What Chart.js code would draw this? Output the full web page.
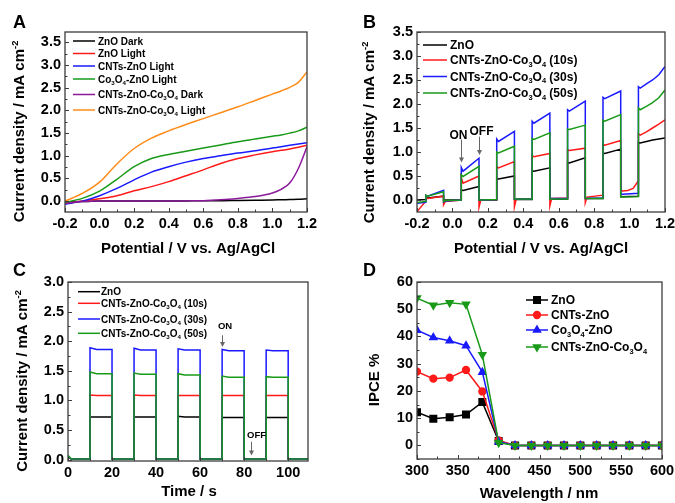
<!DOCTYPE html>
<html>
<head>
<meta charset="utf-8">
<script src="https://cdn.jsdelivr.net/npm/chart.js@4.4.1/dist/chart.umd.min.js"></script>
<style>
  body { margin: 0; background: #fff; width: 675px; height: 503px; position: relative; overflow: hidden; }
  canvas { position: absolute; }
</style>
</head>
<body>
<canvas id="cA" width="337" height="258" style="left:0;top:0"></canvas>
<canvas id="cB" width="350" height="258" style="left:337px;top:0"></canvas>
<canvas id="cC" width="337" height="253" style="left:0;top:250px"></canvas>
<canvas id="cD" width="350" height="253" style="left:337px;top:250px"></canvas>
<script>
// ---- panel A: LSV curves ----
const aPot = [-0.2, -0.1, 0, 0.1, 0.2, 0.3, 0.4, 0.5, 0.6, 0.7, 0.8, 0.9, 1.0, 1.05, 1.1, 1.15, 1.2];
const aZnODark = [-0.02, -0.01, 0, 0, 0, 0, 0, 0.005, 0.01, 0.01, 0.015, 0.02, 0.025, 0.03, 0.035, 0.04, 0.05];
const aZnOLight = [-0.05, 0, 0.05, 0.12, 0.23, 0.32, 0.43, 0.56, 0.69, 0.83, 0.94, 1.02, 1.09, 1.12, 1.15, 1.19, 1.23];
const aCntZnO = [-0.07, 0, 0.12, 0.28, 0.47, 0.64, 0.76, 0.86, 0.94, 1.0, 1.06, 1.11, 1.17, 1.2, 1.23, 1.26, 1.29];
const aCoZnO = [-0.03, 0.06, 0.22, 0.48, 0.76, 0.94, 1.03, 1.1, 1.17, 1.24, 1.31, 1.37, 1.43, 1.46, 1.5, 1.55, 1.63];
const aAllDark = [-0.05, -0.01, 0, 0, 0, 0, 0, 0.005, 0.01, 0.03, 0.06, 0.1, 0.18, 0.26, 0.4, 0.72, 1.2];
const aAllLight = [0, 0.17, 0.42, 0.82, 1.16, 1.39, 1.55, 1.69, 1.82, 1.95, 2.08, 2.22, 2.36, 2.43, 2.51, 2.62, 2.85];

// ---- panel B: chopped LSV, dark/light switching potentials ----
const bEdges = [-0.2, -0.15, -0.05, 0.05, 0.15, 0.25, 0.35, 0.45, 0.55, 0.65, 0.75, 0.85, 0.95, 1.05, 1.2];
// one entry per segment: value at the switch, then values across the segment
const bZnO = [[0, 0.01], [0.04, 0.04, 0.08], [0, 0], [0.21, 0.2, 0.28], [0, 0], [0.45, 0.44, 0.5], [0.01, 0.01],
  [0.61, 0.6, 0.67], [0.02, 0.02], [0.78, 0.77, 0.88], [0.03, 0.03], [0.98, 0.97, 1.06], [0.07, 0.08],
  [1.2, 1.19, 1.22, 1.25, 1.27, 1.29]];
const b10s = [[-0.25, -0.2, -0.02], [0.05, 0.03, 0.08], [-0.1, -0.03, 0], [0.47, 0.35, 0.5], [-0.15, 0, 0.01],
  [0.7, 0.67, 0.8], [-0.14, 0.02, 0.03], [0.93, 0.9, 0.97], [-0.12, 0.03, 0.04], [1.05, 1.03, 1.08],
  [-0.06, 0.06, 0.1], [1.16, 1.14, 1.24], [0.21, 0.19, 0.2, 0.24, 0.4], [1.38, 1.35, 1.42, 1.5, 1.58, 1.67]];
const b30s = [[-0.07, -0.05], [0.1, 0.08, 0.2], [-0.04, -0.02, 0], [0.68, 0.6, 0.87], [0, 0, 0.01],
  [1.27, 1.22, 1.43], [0.02, 0.02], [1.64, 1.6, 1.81], [0.03, 0.03], [1.88, 1.85, 2.06], [0.03, 0.04],
  [2.14, 2.11, 2.27], [0.12, 0.12, 0.14], [2.36, 2.33, 2.42, 2.5, 2.61, 2.78]];
const b50s = [[-0.05, -0.03], [0.1, 0.08, 0.17], [-0.03, -0.01, 0], [0.53, 0.49, 0.7], [0, 0, 0.01],
  [1.0, 0.98, 1.12], [0.02, 0.02], [1.28, 1.26, 1.4], [0.02, 0.02], [1.48, 1.47, 1.56], [0.03, 0.03],
  [1.66, 1.64, 1.78], [0.06, 0.06, 0.07], [1.92, 1.88, 1.95, 2.03, 2.13, 2.29]];

// ---- panel C: i-t curves ----
const cOn = [10, 30, 50, 70, 90];
const cOff = [20, 40, 60, 80, 100];
const cEnd = 109;
const cInit = [0.04, 0.05, 0.05, 0.07];
const cDark = [0.01, 0.01, 0.01, 0.01];
// [value at switch-on, plateau] per pulse
const cZnO = [[0.72, 0.72], [0.72, 0.72], [0.73, 0.72], [0.71, 0.71], [0.71, 0.71]];
const c10s = [[1.09, 1.08], [1.09, 1.08], [1.08, 1.08], [1.08, 1.08], [1.08, 1.08]];
const c30s = [[1.89, 1.86], [1.88, 1.85], [1.87, 1.85], [1.86, 1.84], [1.85, 1.84]];
const c50s = [[1.48, 1.45], [1.46, 1.44], [1.45, 1.43], [1.41, 1.39], [1.4, 1.39]];

// ---- panel D: IPCE ----
const dWave = [300, 320, 340, 360, 380, 400, 420, 440, 460, 480, 500, 520, 540, 560, 580, 600];
const dZnO = [12.2, 9.8, 10.3, 11.3, 15.9, 1.6, 0, 0, 0, 0, 0, 0, 0, 0, 0, 0];
const dCntZnO = [27.1, 24.5, 24.9, 27.7, 19.8, 1.8, 0, 0, 0, 0, 0, 0, 0, 0, 0, 0];
const dCoZnO = [42.3, 39.6, 38.4, 36.6, 26.9, 1.3, 0, 0, 0, 0, 0, 0, 0, 0, 0, 0];
const dAll = [54.1, 51.5, 52.4, 51.8, 33.3, 1.0, 0, 0, 0, 0, 0, 0, 0, 0, 0, 0];

// tick values
const potTicks = [-0.2, 0, 0.2, 0.4, 0.6, 0.8, 1.0, 1.2];
const potMinor = [-0.1, 0.1, 0.3, 0.5, 0.7, 0.9, 1.1];
const jTicks = [0, 0.5, 1.0, 1.5, 2.0, 2.5, 3.0, 3.5];
const jMinor = [0.25, 0.75, 1.25, 1.75, 2.25, 2.75, 3.25];
const jTicksC = [0, 0.5, 1.0, 1.5, 2.0, 2.5, 3.0];
const jMinorC = [0.25, 0.75, 1.25, 1.75, 2.25, 2.75];
const timeTicks = [0, 20, 40, 60, 80, 100];
const timeMinor = [10, 30, 50, 70, 90];
const waveTicks = [300, 350, 400, 450, 500, 550, 600];
const waveMinor = [325, 375, 425, 475, 525, 575];
const ipceTicks = [0, 10, 20, 30, 40, 50, 60];
const ipceMinor = [-5, 5, 15, 25, 35, 45, 55];

const FONT = '"Liberation Sans", Arial, sans-serif';
const FRAME = '#3c3c3c';
Chart.defaults.font.family = FONT;
Chart.defaults.color = '#000';

const SUBS = '₀₁₂₃₄₅₆₇₈₉';
const SUPS = { '⁻': '-', '²': '2' };

// text with small sub/superscripts, y is the baseline
function richText(ctx, str, x, y, size, align) {
  const parts = [];
  for (const ch of str) {
    let kind = 'n', t = ch;
    if (SUBS.includes(ch)) { kind = 'sub'; t = String(SUBS.indexOf(ch)); }
    else if (SUPS[ch]) { kind = 'sup'; t = SUPS[ch]; }
    const last = parts[parts.length - 1];
    if (last && last.kind === kind) last.t += t; else parts.push({ kind, t });
  }
  let w = 0;
  parts.forEach(p => {
    p.size = p.kind === 'n' ? size : size * 0.62;
    ctx.font = `bold ${p.size}px ${FONT}`;
    p.w = ctx.measureText(p.t).width;
    w += p.w;
  });
  let cx = align === 'center' ? x - w / 2 : x;
  ctx.textAlign = 'left';
  ctx.textBaseline = 'alphabetic';
  parts.forEach(p => {
    ctx.font = `bold ${p.size}px ${FONT}`;
    const dy = p.kind === 'sub' ? size * 0.2 : p.kind === 'sup' ? -size * 0.42 : 0;
    ctx.fillText(p.t, cx, y + dy);
    cx += p.w;
  });
}

function arrow(ctx, x, y0, y1) {
  ctx.strokeStyle = '#666';
  ctx.fillStyle = '#666';
  ctx.lineWidth = 1;
  ctx.beginPath();
  ctx.moveTo(x, y0);
  ctx.lineTo(x, y1 - 4);
  ctx.stroke();
  ctx.beginPath();
  ctx.moveTo(x - 2.5, y1 - 5);
  ctx.lineTo(x + 2.5, y1 - 5);
  ctx.lineTo(x, y1);
  ctx.closePath();
  ctx.fill();
}

const decor = {
  id: 'decor',
  afterDraw(chart, args, o) {
    const ctx = chart.ctx, a = chart.chartArea;
    const xs = chart.scales.x, ys = chart.scales.y;
    ctx.save();

    // inward ticks on bottom and left
    ctx.strokeStyle = FRAME;
    ctx.lineWidth = 1;
    ctx.beginPath();
    const tx = (v, len) => { const p = Math.round(xs.getPixelForValue(v)) + 0.5; ctx.moveTo(p, a.bottom); ctx.lineTo(p, a.bottom - len); };
    const ty = (v, len) => { const p = Math.round(ys.getPixelForValue(v)) + 0.5; ctx.moveTo(a.left, p); ctx.lineTo(a.left + len, p); };
    o.xMajor.forEach(v => tx(v, 4));
    o.xMinor.forEach(v => tx(v, 2.5));
    o.yMajor.forEach(v => ty(v, 4));
    o.yMinor.forEach(v => ty(v, 2.5));
    ctx.stroke();
    ctx.lineWidth = 1.3;
    ctx.strokeRect(a.left, a.top, a.width, a.height);

    // axis titles and panel tag
    ctx.fillStyle = '#000';
    richText(ctx, o.xTitle, o.xTitlePos[0], o.xTitlePos[1], 15, 'center');
    ctx.save();
    ctx.translate(o.yTitlePos[0], o.yTitlePos[1]);
    ctx.rotate(-Math.PI / 2);
    richText(ctx, o.yTitle, 0, 0, 15, 'center');
    ctx.restore();
    richText(ctx, o.tag[0], o.tag[1], o.tag[2], 18, 'left');

    // legend
    const L = o.legend;
    chart.data.datasets.forEach((ds, i) => {
      const y = L.rows[i];
      ctx.strokeStyle = ds.borderColor;
      ctx.lineWidth = ds.borderWidth;
      ctx.beginPath();
      ctx.moveTo(L.x0, y);
      ctx.lineTo(L.x1, y);
      ctx.stroke();
      if (ds.pointRadius) {
        ctx.fillStyle = ds.backgroundColor;
        Chart.helpers.drawPoint(ctx, {
          pointStyle: ds.pointStyle, radius: ds.pointRadius, rotation: ds.rotation || 0, borderWidth: 1
        }, (L.x0 + L.x1) / 2, y);
      }
      ctx.fillStyle = '#000';
      richText(ctx, ds.label, L.tx, y + L.size * 0.36, L.size, 'left');
    });

    // ON / OFF notes
    (o.notes || []).forEach(n => {
      const px = Math.round(xs.getPixelForValue(n.x)) + 0.5;
      const p0 = ys.getPixelForValue(n.from), p1 = ys.getPixelForValue(n.to);
      arrow(ctx, px, p0, p1);
      ctx.fillStyle = '#000';
      richText(ctx, n.text, px + n.dx, p0 + n.dy, n.size, 'center');
    });
    ctx.restore();
  }
};

function makeChart(id, datasets, o) {
  const fmtX = o.xFmt, fmtY = o.yFmt;
  return new Chart(document.getElementById(id), {
    type: 'line',
    data: { datasets },
    options: {
      responsive: false,
      animation: false,
      events: [],
      layout: { padding: o.pad },
      plugins: { legend: { display: false }, tooltip: { enabled: false }, decor: o },
      scales: {
        x: {
          type: 'linear', min: o.xMin, max: o.xMax,
          grid: { display: false, drawTicks: false, tickLength: 0 },
          border: { display: false },
          afterFit: s => { s.height = 30; },
          afterBuildTicks: s => { s.ticks = o.xMajor.map(v => ({ value: v })); },
          ticks: { font: { size: 14.5, weight: 'bold' }, padding: 3, maxRotation: 0, autoSkip: false, callback: v => fmtX(v) }
        },
        y: {
          type: 'linear', min: o.yMin, max: o.yMax,
          grid: { display: false, drawTicks: false, tickLength: 0 },
          border: { display: false },
          afterFit: s => { s.width = 40; },
          afterBuildTicks: s => { s.ticks = o.yMajor.map(v => ({ value: v })); },
          ticks: { font: { size: 14.5, weight: 'bold' }, padding: 4, autoSkip: false, callback: v => fmtY(v) }
        }
      }
    },
    plugins: [decor]
  });
}

const f1 = v => v.toFixed(1);
const f0 = v => v.toFixed(0);
const pairs = (xs, ys) => xs.map((x, i) => ({ x, y: ys[i] }));

function chop(segs) {
  const pts = [];
  segs.forEach((vals, i) => {
    const x0 = bEdges[i], x1 = bEdges[i + 1], n = vals.length - 1;
    pts.push({ x: x0, y: vals[0] });
    for (let k = 1; k <= n; k++) {
      const x = n === 1 ? x1 : x0 + 0.01 + (x1 - x0 - 0.01) * (k - 1) / (n - 1);
      pts.push({ x, y: vals[k] });
    }
  });
  return pts;
}

function pulses(vals, s) {
  const pts = [{ x: 0, y: cInit[s] }, { x: 1.5, y: cDark[s] }];
  vals.forEach((v, k) => {
    pts.push({ x: cOn[k], y: cDark[s] }, { x: cOn[k], y: v[0] }, { x: cOn[k] + 3, y: v[1] },
      { x: cOff[k], y: v[1] }, { x: cOff[k], y: cDark[s] });
  });
  pts.push({ x: cEnd, y: cDark[s] });
  return pts;
}

const line = (label, data, color, order, extra) => Object.assign({
  label, data, borderColor: color, backgroundColor: color, borderWidth: 1.5, pointRadius: 0, order
}, extra || {});

const BLACK = '#000000', RED = '#ff1a1a', BLUE = '#1a1aff', GREEN = '#199a19', PURPLE = '#8b1a9b', ORANGE = '#ff8c1a';
const smooth = { cubicInterpolationMode: 'monotone' };
const yTitleJ = 'Current density / mA cm⁻²';
const potTitle = 'Potential / V vs. Ag/AgCl';

makeChart('cA', [
  line('ZnO Dark', pairs(aPot, aZnODark), BLACK, 5, smooth),
  line('ZnO Light', pairs(aPot, aZnOLight), RED, 4, smooth),
  line('CNTs-ZnO Light', pairs(aPot, aCntZnO), BLUE, 3, smooth),
  line('Co₃O₄-ZnO Light', pairs(aPot, aCoZnO), GREEN, 2, smooth),
  line('CNTs-ZnO-Co₃O₄ Dark', pairs(aPot, aAllDark), PURPLE, 1, smooth),
  line('CNTs-ZnO-Co₃O₄ Light', pairs(aPot, aAllLight), ORANGE, 0, smooth)
], {
  pad: { left: 25, right: 30, top: 32, bottom: 16 },
  xMin: -0.2, xMax: 1.2, yMin: -0.24, yMax: 3.73,
  xMajor: potTicks, xMinor: potMinor, yMajor: jTicks, yMinor: jMinor, xFmt: f1, yFmt: f1,
  xTitle: potTitle, xTitlePos: [188, 253], yTitle: yTitleJ, yTitlePos: [24, 131.5],
  tag: ['A', 13, 28],
  legend: { x0: 73, x1: 95, tx: 98, size: 10, rows: [41, 53.5, 66, 79, 94.5, 110] }
});

makeChart('cB', [
  line('ZnO', chop(bZnO), BLACK, 3),
  line('CNTs-ZnO-Co₃O₄ (10s)', chop(b10s), RED, 2),
  line('CNTs-ZnO-Co₃O₄ (30s)', chop(b30s), BLUE, 1),
  line('CNTs-ZnO-Co₃O₄ (50s)', chop(b50s), GREEN, 0)
], {
  pad: { left: 40, right: 22, top: 32, bottom: 16 },
  xMin: -0.2, xMax: 1.2, yMin: -0.25, yMax: 3.5,
  xMajor: potTicks, xMinor: potMinor, yMajor: jTicks, yMinor: jMinor, xFmt: f1, yFmt: f1,
  xTitle: potTitle, xTitlePos: [204, 253], yTitle: yTitleJ, yTitlePos: [37, 132.5],
  tag: ['B', 26, 28],
  legend: { x0: 86, x1: 110, tx: 113, size: 12, rows: [45, 60, 76.5, 93] },
  notes: [
    { x: 0.05, from: 1.26, to: 0.78, text: 'ON', dx: -3, dy: -1, size: 12 },
    { x: 0.15, from: 1.32, to: 0.94, text: 'OFF', dx: 2, dy: -2, size: 12 }
  ]
});

makeChart('cC', [
  line('ZnO', pulses(cZnO, 0), BLACK, 3),
  line('CNTs-ZnO-Co₃O₄ (10s)', pulses(c10s, 1), RED, 2),
  line('CNTs-ZnO-Co₃O₄ (30s)', pulses(c30s, 2), BLUE, 1),
  line('CNTs-ZnO-Co₃O₄ (50s)', pulses(c50s, 3), GREEN, 0)
], {
  pad: { left: 28, right: 29, top: 32, bottom: 12 },
  xMin: 0, xMax: cEnd, yMin: -0.025, yMax: 3.0,
  xMajor: timeTicks, xMinor: timeMinor, yMajor: jTicksC, yMinor: jMinorC, xFmt: f0, yFmt: f1,
  xTitle: 'Time / s', xTitlePos: [189, 246], yTitle: yTitleJ, yTitlePos: [27, 131],
  tag: ['C', 13, 25.5],
  legend: { x0: 78, x1: 100, tx: 101, size: 10, rows: [41.7, 53.3, 69, 83.3] },
  notes: [
    { x: 70, from: 2.1, to: 1.9, text: 'ON', dx: 2.5, dy: -6.5, size: 9.5 },
    { x: 83, from: 0.3, to: 0.07, text: 'OFF', dx: 5, dy: -3.5, size: 9.5 }
  ]
});

makeChart('cD', [
  line('ZnO', pairs(dWave, dZnO), BLACK, 3, { pointRadius: 4.6, pointStyle: 'rect' }),
  line('CNTs-ZnO', pairs(dWave, dCntZnO), RED, 2, { pointRadius: 3.4, pointStyle: 'circle' }),
  line('Co₃O₄-ZnO', pairs(dWave, dCoZnO), BLUE, 1, { pointRadius: 4, pointStyle: 'triangle' }),
  line('CNTs-ZnO-Co₃O₄', pairs(dWave, dAll), GREEN, 0, { pointRadius: 4, pointStyle: 'triangle', rotation: 180 })
], {
  pad: { left: 40, right: 25, top: 32, bottom: 14 },
  xMin: 300, xMax: 600, yMin: -5, yMax: 60,
  xMajor: waveTicks, xMinor: waveMinor, yMajor: ipceTicks, yMinor: ipceMinor, xFmt: f0, yFmt: f0,
  xTitle: 'Wavelength / nm', xTitlePos: [202, 247.5], yTitle: 'IPCE %', yTitlePos: [42, 130],
  tag: ['D', 26, 25.5],
  legend: { x0: 189, x1: 211, tx: 214, size: 12, rows: [50, 65, 80, 97] }
});
</script>
</body>
</html>
